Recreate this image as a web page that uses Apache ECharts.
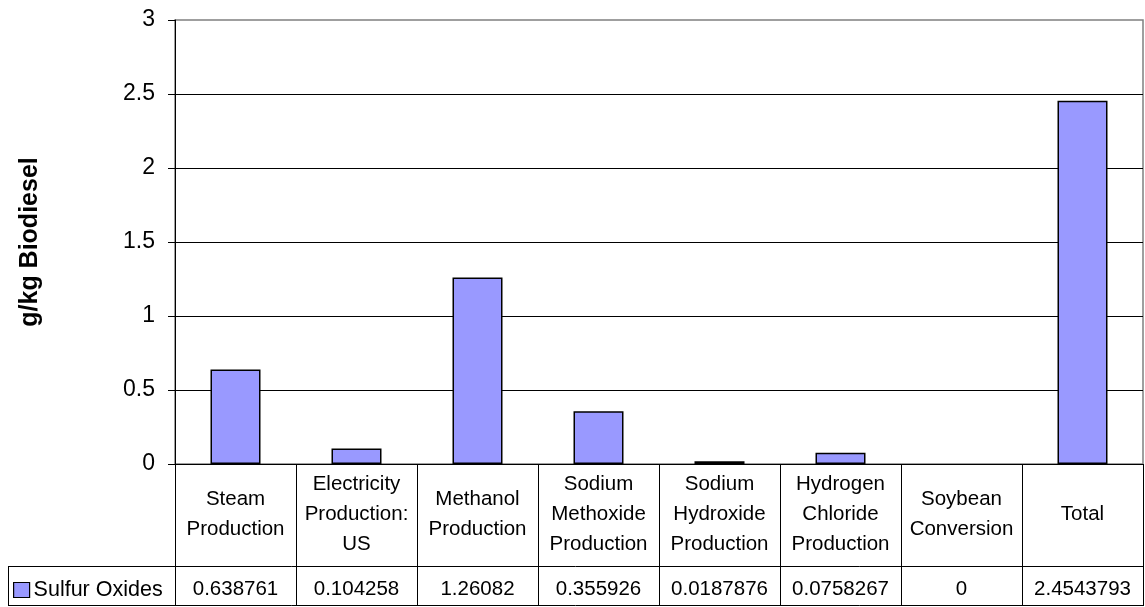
<!DOCTYPE html>
<html>
<head>
<meta charset="utf-8">
<script src="https://cdn.jsdelivr.net/npm/echarts@6/dist/echarts.min.js"></script>
<style>
html,body{margin:0;padding:0;background:#fff;}
#main{width:1145px;height:607px;}
</style>
</head>
<body>
<div id="main"></div>
<script>
const categories = ["Steam\nProduction", "Electricity\nProduction:\nUS", "Methanol\nProduction", "Sodium\nMethoxide\nProduction", "Sodium\nHydroxide\nProduction", "Hydrogen\nChloride\nProduction", "Soybean\nConversion", "Total"];
const seriesName = "Sulfur Oxides";
const values = [0.638761, 0.104258, 1.26082, 0.355926, 0.0187876, 0.0758267, 0, 2.4543793];
const valueLabels = values.map(v => String(v));
const yTicks = [0, 0.5, 1, 1.5, 2, 2.5, 3];
const yAxisName = "g/kg Biodiesel";

const FONT = "'Liberation Sans', Arial, sans-serif";
const chart = echarts.init(document.getElementById('main'), null, {renderer: 'canvas'});

const gridLeft = 175, gridRight = 2, gridTop = 20, gridBottom = 143;
const W = 1145, H = 607;

chart.setOption({
  animation: false,
  backgroundColor: '#fff',
  textStyle: {fontFamily: FONT},
  grid: {left: gridLeft, right: gridRight, top: gridTop, bottom: gridBottom, show: true, borderColor: '#808080', borderWidth: 1.5, backgroundColor: 'transparent'},
  legend: {
    data: [seriesName], left: 13, top: 578, padding: 0, itemGap: 0,
    itemWidth: 16, itemHeight: 15, icon: 'rect',
    itemStyle: {borderColor: '#000', borderWidth: 1.2},
    textStyle: {fontFamily: FONT, fontSize: 21.5, color: '#000', padding: [0,0,0,-1], lineHeight: 24}
  },
  xAxis: [{
    type: 'category', data: categories, position: 'bottom',
    axisLine: {show: true, lineStyle: {color: '#000', width: 1}},
    axisTick: {show: true, interval: 0, length: 142, lineStyle: {color: '#000', width: 1}},
    axisLabel: {interval: 0, margin: 50, verticalAlign: 'middle', fontFamily: FONT, fontSize: 20.5, lineHeight: 30, color: '#000', align: 'center'},
    splitLine: {show: false}
  }, {
    type: 'category', data: valueLabels, position: 'bottom', offset: 0,
    axisLine: {show: false}, axisTick: {show: false},
    axisLabel: {interval: 0, margin: 125, verticalAlign: 'middle', fontFamily: FONT, fontSize: 20.5, color: '#000'},
    splitLine: {show: false}
  }],
  yAxis: {
    type: 'value', min: yTicks[0], max: yTicks[yTicks.length - 1], interval: yTicks[1] - yTicks[0],
    name: yAxisName, nameLocation: 'middle', nameGap: 132,
    nameTextStyle: {fontFamily: FONT, fontSize: 25, fontWeight: 'bold', color: '#000'},
    axisLine: {show: true, lineStyle: {color: '#000', width: 1}},
    axisTick: {show: true, length: 7, lineStyle: {color: '#000'}},
    axisLabel: {margin: 20, fontFamily: FONT, fontSize: 23, color: '#000'},
    splitLine: {show: true, showMinLine: false, showMaxLine: false, lineStyle: {color: '#000', width: 1}}
  },
  series: [{
    name: seriesName, type: 'bar', xAxisIndex: 0,
    data: values.map(v => v === 0 ? {value: v, itemStyle: {borderWidth: 0, color: 'transparent'}} : v),
    barWidth: 50,
    itemStyle: {color: '#9999FF', borderColor: '#000', borderWidth: 1.5}
  }],
  graphic: [
    {type: 'line', shape: {x1: 8, y1: 566.5, x2: W - gridRight, y2: 566.5}, style: {stroke: '#000', lineWidth: 1}},
    {type: 'line', shape: {x1: 8, y1: 605.5, x2: W - gridRight, y2: 605.5}, style: {stroke: '#000', lineWidth: 1}},
    {type: 'line', shape: {x1: 8.5, y1: 566, x2: 8.5, y2: 606}, style: {stroke: '#000', lineWidth: 1}}
  ]
});
</script>
</body>
</html>
